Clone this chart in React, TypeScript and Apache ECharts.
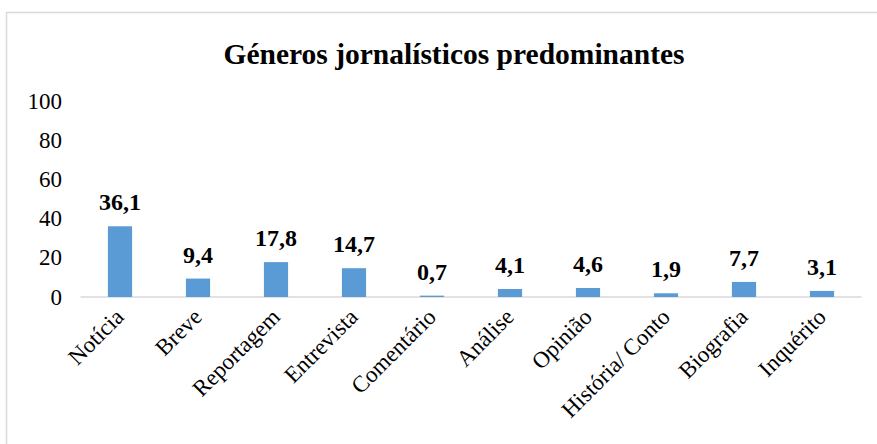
import React, { useEffect, useRef } from "react";
import * as echarts from "echarts";

const categories = ["Notícia", "Breve", "Reportagem", "Entrevista", "Comentário", "Análise", "Opinião", "História/ Conto", "Biografia", "Inquérito"];
const values = [36.1, 9.4, 17.8, 14.7, 0.7, 4.1, 4.6, 1.9, 7.7, 3.1];
const title = "Géneros jornalísticos predominantes";

const FONT = "'Liberation Serif', 'Times New Roman', serif";

export default function App() {
  const ref = useRef<HTMLDivElement>(null);
  useEffect(() => {
    document.body.style.margin = "0";
    const chart = echarts.init(ref.current!, undefined, { renderer: "svg" });
    chart.setOption({
      animation: false,
      backgroundColor: "#ffffff",
      title: {
        text: title,
        left: 449,
        textAlign: "center",
        top: 34,
        textStyle: { fontFamily: FONT, fontSize: 29.5, fontWeight: "bold", color: "#000" },
      },
      graphic: [
        {
          type: "rect",
          shape: { x: 6.5, y: 12.5, width: 900, height: 460 },
          style: { fill: "none", stroke: "#d9d9d9", lineWidth: 1.5 },
          silent: true,
        },
      ],
      grid: { left: 81, right: 16, top: 101, bottom: 147 },
      xAxis: {
        type: "category",
        data: categories,
        axisLine: { lineStyle: { color: "#d9d9d9", width: 1.5 } },
        axisTick: { show: false },
        axisLabel: {
          rotate: 45,
          interval: 0,
          fontFamily: FONT,
          fontSize: 23,
          color: "#000",
          margin: 16,
        },
      },
      yAxis: {
        type: "value",
        min: 0,
        max: 100,
        interval: 20,
        splitLine: { show: false },
        axisLine: { show: false },
        axisTick: { show: false },
        axisLabel: { fontFamily: FONT, fontSize: 23, color: "#000", margin: 19 },
      },
      series: [
        {
          type: "bar",
          data: values,
          barWidth: "31%",
          itemStyle: { color: "#5b9bd5" },
          label: {
            show: true,
            position: "top",
            distance: 12,
            fontFamily: FONT,
            fontSize: 24,
            fontWeight: "bold",
            color: "#000",
            formatter: (p: any) => String(p.value).replace(".", ","),
          },
        },
      ],
    });
    return () => chart.dispose();
  }, []);
  return <div ref={ref} style={{ width: 877, height: 444 }} />;
}
